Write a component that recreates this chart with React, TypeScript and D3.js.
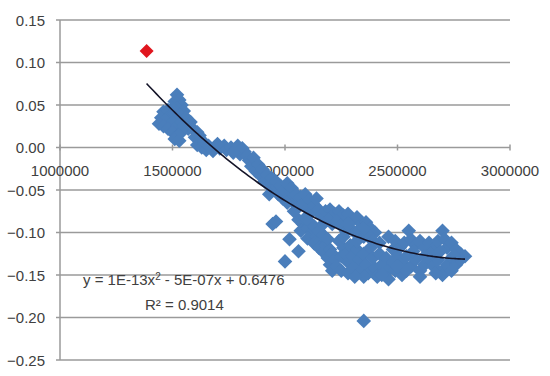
import React, { useEffect } from "react";
import * as d3 from "d3";

const xTicks = [1000000, 1500000, 2000000, 2500000, 3000000];
const yTicks = [0.15, 0.1, 0.05, 0.0, -0.05, -0.1, -0.15, -0.2, -0.25];

const highlightPoint: [number, number][] = [[1385000, 0.1135]];

const points: [number, number][] = [
  [1520000, 0.062], [1530000, 0.056], [1510000, 0.054], [1540000, 0.05], [1520000, 0.047],
  [1500000, 0.046], [1550000, 0.043], [1480000, 0.044], [1460000, 0.042], [1490000, 0.038],
  [1510000, 0.04], [1530000, 0.038], [1450000, 0.035], [1470000, 0.032], [1500000, 0.03],
  [1440000, 0.028], [1460000, 0.025], [1480000, 0.022], [1520000, 0.025], [1540000, 0.03],
  [1560000, 0.035], [1580000, 0.03], [1570000, 0.022], [1500000, 0.018], [1520000, 0.014],
  [1510000, 0.01], [1530000, 0.008], [1540000, 0.018],
  [1590000, 0.022], [1610000, 0.018], [1600000, 0.012], [1620000, 0.008], [1610000, 0.003],
  [1630000, 0.0], [1640000, 0.006], [1650000, -0.003], [1660000, 0.002], [1680000, -0.004],
  [1690000, 0.001], [1710000, -0.001], [1730000, 0.002], [1740000, -0.003], [1760000, 0.0],
  [1780000, -0.002], [1790000, 0.002], [1810000, -0.001], [1820000, -0.005], [1800000, -0.008],
  [1830000, -0.01],
  [1840000, -0.015], [1850000, -0.022], [1860000, -0.012], [1870000, -0.028], [1880000, -0.02],
  [1890000, -0.033], [1900000, -0.026], [1910000, -0.04], [1920000, -0.032], [1930000, -0.045],
  [1940000, -0.036], [1950000, -0.05], [1960000, -0.04], [1970000, -0.055], [1980000, -0.045],
  [1990000, -0.06], [2000000, -0.05], [2010000, -0.042], [2020000, -0.058], [2030000, -0.048],
  [2040000, -0.065], [2050000, -0.055], [2060000, -0.07],
  [2070000, -0.058], [2080000, -0.066], [2090000, -0.055], [2100000, -0.072], [2110000, -0.062],
  [2120000, -0.075], [2130000, -0.068], [2140000, -0.06], [2150000, -0.073], [2160000, -0.08],
  [2180000, -0.075], [2200000, -0.073], [2220000, -0.078], [2240000, -0.075], [2260000, -0.08],
  [2280000, -0.078], [2300000, -0.085], [2320000, -0.082], [2340000, -0.09], [2360000, -0.088],
  [2380000, -0.095], [2400000, -0.1], [2190000, -0.085], [2210000, -0.09], [2230000, -0.087],
  [2250000, -0.092], [2270000, -0.098], [2290000, -0.095], [2310000, -0.1], [2330000, -0.097],
  [2350000, -0.105], [2370000, -0.103], [2390000, -0.11],
  [2060000, -0.085], [2080000, -0.09], [2070000, -0.098], [2090000, -0.083], [2100000, -0.095],
  [2110000, -0.088], [2120000, -0.1], [2100000, -0.107], [2130000, -0.093], [2140000, -0.105],
  [2130000, -0.113], [2150000, -0.098], [2160000, -0.11], [2150000, -0.118], [2170000, -0.103],
  [2180000, -0.115], [2170000, -0.123], [2190000, -0.108], [2200000, -0.12], [2190000, -0.13],
  [2210000, -0.125], [2200000, -0.138], [2220000, -0.132], [2210000, -0.145],
  [1945000, -0.09], [1960000, -0.087], [2020000, -0.108], [2060000, -0.122], [2000000, -0.134],
  [2240000, -0.11], [2260000, -0.118], [2250000, -0.128], [2270000, -0.125], [2280000, -0.135],
  [2290000, -0.115], [2300000, -0.128], [2310000, -0.14], [2320000, -0.12], [2330000, -0.132],
  [2340000, -0.145], [2350000, -0.125], [2360000, -0.138], [2370000, -0.148], [2380000, -0.118],
  [2390000, -0.13], [2400000, -0.142], [2410000, -0.152], [2420000, -0.125], [2430000, -0.138],
  [2440000, -0.148], [2460000, -0.155], [2450000, -0.13], [2470000, -0.142], [2480000, -0.12],
  [2230000, -0.14], [2250000, -0.145], [2280000, -0.148],
  [2460000, -0.105], [2490000, -0.11], [2510000, -0.118], [2530000, -0.112], [2550000, -0.098],
  [2560000, -0.108], [2580000, -0.115], [2600000, -0.11], [2620000, -0.118], [2640000, -0.112],
  [2660000, -0.12], [2680000, -0.11], [2700000, -0.098], [2710000, -0.108], [2720000, -0.118],
  [2740000, -0.112], [2760000, -0.12], [2780000, -0.125], [2800000, -0.128], [2500000, -0.128],
  [2520000, -0.135], [2540000, -0.128], [2560000, -0.14], [2580000, -0.132], [2600000, -0.145],
  [2620000, -0.138], [2640000, -0.13], [2660000, -0.14], [2680000, -0.132], [2700000, -0.145],
  [2720000, -0.138], [2740000, -0.13], [2760000, -0.138], [2780000, -0.132], [2490000, -0.145],
  [2520000, -0.15], [2480000, -0.135], [2700000, -0.15], [2600000, -0.152], [2650000, -0.125],
  [2740000, -0.145],
  [1550000, 0.025], [1620000, 0.014], [1700000, 0.004], [1770000, -0.006], [1930000, -0.055],
  [2010000, -0.065], [2040000, -0.075], [2170000, -0.09], [2260000, -0.105], [2320000, -0.11],
  [2280000, -0.09], [2350000, -0.095], [2420000, -0.112], [2430000, -0.15], [2500000, -0.14],
  [2540000, -0.145], [2570000, -0.122], [2620000, -0.128], [2690000, -0.122], [2750000, -0.127],
  [2670000, -0.148], [2350000, -0.152], [2310000, -0.152],
  [2350000, -0.204],
];

// quadratic trendline coefficients [a, b, c] for y = a x^2 + b x + c
const trendCoef = [9.75e-14, -5.54e-7, 0.6555];
const trendRange = [1385000, 2800000];
const equationText = ["y = 1E-13x", "2", " - 5E-07x + 0.6476"];
const r2Text = "R² = 0.9014";

const W = 550;
const H = 376;
const plot = { left: 60, right: 510, top: 20, bottom: 360 };

const diamond = (r: number) => `M0,${-r}L${r},0L0,${r}L${-r},0Z`;

export default function App() {
  useEffect(() => {
    document.body.style.margin = "0";
  }, []);

  const x = d3.scaleLinear().domain([1000000, 3000000]).range([plot.left, plot.right]);
  const y = d3.scaleLinear().domain([-0.25, 0.15]).range([plot.bottom, plot.top]);

  const trendData = d3.range(0, 101).map((i) => {
    const xv = trendRange[0] + ((trendRange[1] - trendRange[0]) * i) / 100;
    return [xv, trendCoef[0] * xv * xv + trendCoef[1] * xv + trendCoef[2]] as [number, number];
  });
  const line = d3
    .line<[number, number]>()
    .x((d) => x(d[0]))
    .y((d) => y(d[1]))
    .curve(d3.curveMonotoneX);

  const font = "'Liberation Sans', Arial, sans-serif";
  const textColor = "#404040";
  const gridColor = "#9a9a9a";

  return (
    <svg width={W} height={H} style={{ display: "block", background: "#fff" }}>
      {yTicks.map((t) => (
        <line key={"g" + t} x1={plot.left} x2={plot.right} y1={y(t)} y2={y(t)} stroke={gridColor} strokeWidth={1.5} />
      ))}
      <line x1={plot.left} x2={plot.left} y1={plot.top} y2={plot.bottom} stroke={gridColor} strokeWidth={1.5} />
      {yTicks.map((t) => (
        <line key={"yt" + t} x1={plot.left - 4} x2={plot.left} y1={y(t)} y2={y(t)} stroke={gridColor} strokeWidth={1.5} />
      ))}
      {xTicks.map((t) => (
        <line key={"xt" + t} x1={x(t)} x2={x(t)} y1={y(0) - 3} y2={y(0) + 3} stroke={gridColor} strokeWidth={1.5} />
      ))}
      {yTicks.map((t) => (
        <text key={"yl" + t} x={plot.left - 15} y={y(t) + 5.5} textAnchor="end" fontFamily={font} fontSize={15} fill={textColor}>
          {d3.format(".2f")(t)}
        </text>
      ))}
      {xTicks.map((t) => (
        <text key={"xl" + t} x={x(t)} y={y(0) + 28} textAnchor="middle" fontFamily={font} fontSize={15} fill={textColor}>
          {t}
        </text>
      ))}
      {points.map((p, i) => (
        <path key={"p" + i} d={diamond(7.3)} transform={`translate(${x(p[0])},${y(p[1])})`} fill="#4a7ebb" />
      ))}
      {highlightPoint.map((p, i) => (
        <path key={"h" + i} d={diamond(7)} transform={`translate(${x(p[0])},${y(p[1])})`} fill="#e0161e" />
      ))}
      <path d={line(trendData) || ""} fill="none" stroke="#141428" strokeWidth={1.6} />
      <text x={83} y={285} fontFamily={font} fontSize={15} fill={textColor}>
        {equationText[0]}
        <tspan dy={-5} fontSize={10}>{equationText[1]}</tspan>
        <tspan dy={5}>{equationText[2]}</tspan>
      </text>
      <text x={145} y={310} fontFamily={font} fontSize={15} fill={textColor}>
        {r2Text}
      </text>
    </svg>
  );
}
